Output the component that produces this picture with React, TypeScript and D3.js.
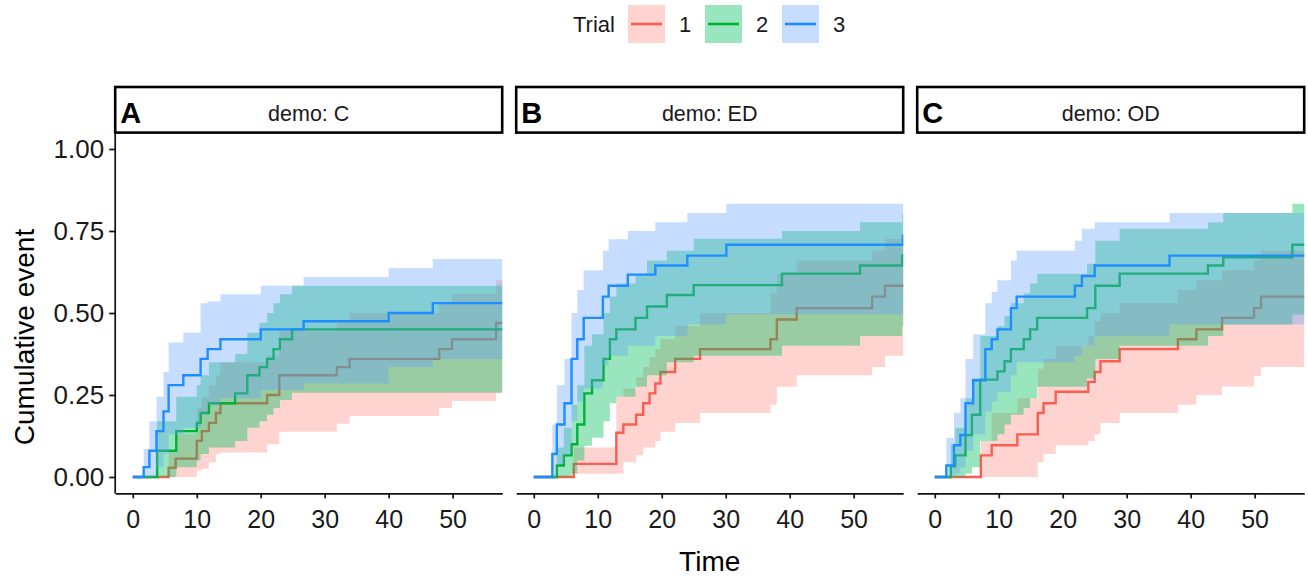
import React, { useEffect, useRef } from "react"
import * as d3 from "d3"

const demoGroups = ["C", "ED", "OD"]
const panelTags = ["A", "B", "C"]
const trials = ["1", "2", "3"]
const xTickValues = [0, 10, 20, 30, 40, 50]
const yTickValues = [0, 0.25, 0.5, 0.75, 1]
const followUpEnd = 60

// demo: C
const cTime1 = [0, 5.6, 6.7, 10, 10.8, 11.9, 13, 13.7, 21, 22.9, 31.9, 33.9, 47.9, 49.9, 56.8]
const cEst1 = [0, 0.028, 0.056, 0.11, 0.14, 0.165, 0.195, 0.225, 0.25, 0.31, 0.335, 0.36, 0.39, 0.42, 0.47]
const cLo1 = [0, 0, 0, 0.02, 0.025, 0.045, 0.07, 0.075, 0.1, 0.138, 0.162, 0.186, 0.21, 0.232, 0.257]
const cHi1 = [0, 0.08, 0.13, 0.21, 0.245, 0.28, 0.31, 0.35, 0.37, 0.445, 0.475, 0.5, 0.53, 0.557, 0.6]

const cTime2 = [0, 3.8, 6.8, 10, 10.6, 11.9, 16, 17.9, 19.8, 21, 22, 23, 24.9]
const cEst2 = [0, 0.08, 0.14, 0.165, 0.195, 0.225, 0.255, 0.31, 0.335, 0.36, 0.39, 0.42, 0.45]
const cLo2 = [0, 0, 0.03, 0.05, 0.07, 0.09, 0.11, 0.15, 0.17, 0.19, 0.21, 0.235, 0.257]
const cHi2 = [0, 0.17, 0.245, 0.28, 0.31, 0.35, 0.375, 0.44, 0.47, 0.5, 0.53, 0.557, 0.583]

const cTime3 = [0, 1.7, 2.6, 3.7, 4.8, 5.6, 7.9, 10.6, 11.7, 13.7, 20, 26.7, 40, 46.9]
const cEst3 = [0, 0.03, 0.08, 0.14, 0.2, 0.28, 0.31, 0.36, 0.39, 0.42, 0.45, 0.475, 0.5, 0.53]
const cLo3 = [0, 0, 0, 0.03, 0.07, 0.13, 0.15, 0.19, 0.22, 0.24, 0.265, 0.285, 0.335, 0.36]
const cHi3 = [0, 0.085, 0.17, 0.245, 0.32, 0.41, 0.44, 0.53, 0.535, 0.557, 0.583, 0.61, 0.637, 0.665]

// demo: ED
const edTime1 = [0, 6.25, 12.9, 14, 16, 17.1, 18.1, 19, 19.8, 22.1, 26, 37, 38, 41.1, 52.9, 54.9]
const edEst1 = [0, 0.04, 0.135, 0.16, 0.19, 0.225, 0.255, 0.285, 0.32, 0.36, 0.39, 0.42, 0.48, 0.515, 0.55, 0.583]
const edLo1 = [0, 0.01, 0.01, 0.045, 0.066, 0.09, 0.09, 0.11, 0.138, 0.165, 0.195, 0.22, 0.275, 0.31, 0.335, 0.37]
const edHi1 = [0, 0.09, 0.245, 0.27, 0.305, 0.335, 0.365, 0.39, 0.42, 0.46, 0.5, 0.56, 0.62, 0.66, 0.69, 0.726]

const edTime2 = [0, 3.6, 4.7, 5.9, 6.8, 7.9, 9.1, 10.9, 11.9, 12.9, 15.9, 17.7, 20.8, 25, 38.8, 51, 57.6]
const edEst2 = [0, 0.035, 0.066, 0.1, 0.16, 0.255, 0.295, 0.36, 0.42, 0.45, 0.485, 0.52, 0.555, 0.585, 0.62, 0.645, 0.675]
const edLo2 = [0, 0, 0, 0.01, 0.05, 0.095, 0.12, 0.17, 0.225, 0.245, 0.275, 0.31, 0.35, 0.37, 0.4, 0.43, 0.46]
const edHi2 = [0, 0.09, 0.15, 0.22, 0.28, 0.4, 0.435, 0.5, 0.55, 0.59, 0.62, 0.66, 0.69, 0.726, 0.75, 0.777, 0.8]

const edTime3 = [0, 2.9, 3.6, 4.8, 5.9, 6.8, 7.8, 10.8, 11.7, 14.7, 19, 24, 30.1, 57.7]
const edEst3 = [0, 0.07, 0.16, 0.225, 0.36, 0.42, 0.485, 0.55, 0.583, 0.617, 0.645, 0.675, 0.708, 0.736]
const edLo3 = [0, 0, 0.04, 0.07, 0.17, 0.23, 0.27, 0.34, 0.37, 0.4, 0.43, 0.465, 0.496, 0.52]
const edHi3 = [0, 0.16, 0.28, 0.36, 0.5, 0.57, 0.63, 0.69, 0.725, 0.75, 0.777, 0.805, 0.833, 0.85]

// demo: OD
const odTime1 = [0, 7.2, 8.9, 12.9, 16.1, 17, 18.9, 24, 25, 25.9, 28.9, 38, 40.9, 44.9, 49.9, 51]
const odEst1 = [0, 0.066, 0.097, 0.13, 0.195, 0.225, 0.26, 0.29, 0.32, 0.353, 0.39, 0.42, 0.45, 0.485, 0.515, 0.55]
const odLo1 = [0, 0, 0, 0, 0.045, 0.07, 0.097, 0.11, 0.13, 0.165, 0.195, 0.22, 0.25, 0.276, 0.307, 0.335]
const odHi1 = [0, 0.11, 0.195, 0.24, 0.33, 0.36, 0.4, 0.43, 0.475, 0.5, 0.53, 0.57, 0.6, 0.63, 0.66, 0.69]

const odTime2 = [0, 2.5, 3.2, 4.8, 5.8, 7.1, 9.8, 10.9, 11.9, 13.9, 14.9, 16, 23.8, 25.1, 28.9, 42.7, 45.1, 55.9]
const odEst2 = [0, 0.033, 0.066, 0.128, 0.19, 0.297, 0.322, 0.353, 0.39, 0.42, 0.45, 0.485, 0.515, 0.583, 0.62, 0.645, 0.67, 0.708]
const odLo2 = [0, 0, 0, 0.01, 0.03, 0.11, 0.13, 0.16, 0.19, 0.21, 0.24, 0.275, 0.3, 0.36, 0.4, 0.43, 0.465, 0.495]
const odHi2 = [0, 0.1, 0.15, 0.24, 0.3, 0.43, 0.46, 0.49, 0.53, 0.56, 0.59, 0.62, 0.65, 0.72, 0.757, 0.777, 0.805, 0.833]

const odTime3 = [0, 1.8, 3, 4, 4.8, 6, 7.9, 8.9, 9.8, 11.9, 12.8, 21.9, 23, 25, 36.7]
const odEst3 = [0, 0.035, 0.097, 0.128, 0.225, 0.295, 0.39, 0.42, 0.45, 0.515, 0.55, 0.583, 0.613, 0.645, 0.675]
const odLo3 = [0, 0, 0.01, 0.03, 0.08, 0.13, 0.2, 0.23, 0.26, 0.31, 0.35, 0.37, 0.4, 0.43, 0.465]
const odHi3 = [0, 0.12, 0.196, 0.24, 0.36, 0.435, 0.53, 0.565, 0.6, 0.66, 0.69, 0.72, 0.757, 0.777, 0.805]

type CurveType = {
  time: number[]
  est: number[]
  lo: number[]
  hi: number[]
}

type StepPoint = { t: number; est: number; lo: number; hi: number }

const curves: CurveType[][] = [
  [
    { time: cTime1, est: cEst1, lo: cLo1, hi: cHi1 },
    { time: cTime2, est: cEst2, lo: cLo2, hi: cHi2 },
    { time: cTime3, est: cEst3, lo: cLo3, hi: cHi3 }
  ],
  [
    { time: edTime1, est: edEst1, lo: edLo1, hi: edHi1 },
    { time: edTime2, est: edEst2, lo: edLo2, hi: edHi2 },
    { time: edTime3, est: edEst3, lo: edLo3, hi: edHi3 }
  ],
  [
    { time: odTime1, est: odEst1, lo: odLo1, hi: odHi1 },
    { time: odTime2, est: odEst2, lo: odLo2, hi: odHi2 },
    { time: odTime3, est: odEst3, lo: odLo3, hi: odHi3 }
  ]
]

const dimensions = { width: 1308, height: 576 }
const panelLefts = [115.2, 516.2, 917.2]
const panelWidth = 387
const plotTop = 132.6
const plotBottom = 493.4
const stripTop = 87

const lineColors = ["#F85E52", "#00B236", "#1E8EFF"]
const bandColors = ["#FF877E", "#00C05C", "#62A1FF"]
const bandOpacity = [0.36, 0.4, 0.36]
const font = "'Liberation Sans', Arial, sans-serif"

export default function App() {
  const ref = useRef<SVGSVGElement>(null)

  useEffect(() => {
    const svg = d3.select(ref.current)
    svg.selectAll("*").remove()

    const yScale = d3
      .scaleLinear()
      .domain([-0.05, 1.05])
      .range([plotBottom, plotTop])

    demoGroups.forEach((group, p) => {
      const left = panelLefts[p]
      const xScale = d3
        .scaleLinear()
        .domain([-2.75, 57.75])
        .range([left, left + panelWidth])

      const clipId = `clip-${p}`
      svg
        .append("clipPath")
        .attr("id", clipId)
        .append("rect")
        .attr("x", left)
        .attr("y", plotTop)
        .attr("width", panelWidth)
        .attr("height", plotBottom - plotTop)

      const g = svg.append("g").attr("clip-path", `url(#${clipId})`)

      const area = d3
        .area<StepPoint>()
        .curve(d3.curveStepAfter)
        .x(d => xScale(d.t))
        .y0(d => yScale(d.lo))
        .y1(d => yScale(d.hi))

      const line = d3
        .line<StepPoint>()
        .curve(d3.curveStepAfter)
        .x(d => xScale(d.t))
        .y(d => yScale(d.est))

      curves[p].forEach((c, i) => {
        const pts: StepPoint[] = c.time.map((t, k) => ({
          t,
          est: c.est[k],
          lo: c.lo[k],
          hi: c.hi[k]
        }))
        pts.push({ ...pts[pts.length - 1], t: followUpEnd })

        g.append("path")
          .attr("d", area(pts))
          .attr("fill", bandColors[i])
          .attr("fill-opacity", bandOpacity[i])

        g.append("path")
          .attr("d", line(pts))
          .attr("fill", "none")
          .attr("stroke", lineColors[i])
          .attr("stroke-width", 2.4)
      })

      // x axis
      const xAxis = d3
        .axisBottom(xScale)
        .tickValues(xTickValues)
        .tickSizeInner(5)
        .tickSizeOuter(0)
        .tickPadding(12)
        .tickFormat(d3.format("d"))

      const xg = svg
        .append("g")
        .attr("transform", `translate(0 ${plotBottom})`)
        .call(xAxis)
      xg.attr("font-family", font).attr("font-size", 25)
      xg.selectAll("path, line").attr("stroke", "#111").attr("stroke-width", 1.7)
      xg.selectAll("text").attr("fill", "#1a1a1a")

      if (p === 0) {
        const yAxis = d3
          .axisLeft(yScale)
          .tickValues(yTickValues)
          .tickSizeInner(6)
          .tickSizeOuter(0)
          .tickPadding(5)
          .tickFormat(d3.format(".2f"))

        const yg = svg
          .append("g")
          .attr("transform", `translate(${left} 0)`)
          .call(yAxis)
        yg.attr("font-family", font).attr("font-size", 26)
        yg.select(".domain").attr("d", `M0,${plotTop}V${plotBottom}`)
        yg.selectAll("path, line").attr("stroke", "#111").attr("stroke-width", 1.7)
        yg.selectAll("text").attr("fill", "#1a1a1a")
      }

      // strip
      svg
        .append("rect")
        .attr("x", left)
        .attr("y", stripTop)
        .attr("width", panelWidth)
        .attr("height", plotTop - stripTop)
        .attr("fill", "white")
        .attr("stroke", "black")
        .attr("stroke-width", 2.6)

      svg
        .append("text")
        .attr("x", left + panelWidth / 2)
        .attr("y", 121)
        .attr("text-anchor", "middle")
        .attr("font-family", font)
        .attr("font-size", 21.5)
        .attr("fill", "#1a1a1a")
        .text(`demo: ${group}`)

      svg
        .append("text")
        .attr("x", left + 5)
        .attr("y", 123)
        .attr("font-family", font)
        .attr("font-size", 29)
        .attr("font-weight", "bold")
        .attr("fill", "black")
        .text(panelTags[p])
    })

    // axis titles
    svg
      .append("text")
      .attr("transform", "translate(34 337) rotate(-90)")
      .attr("text-anchor", "middle")
      .attr("font-family", font)
      .attr("font-size", 28)
      .attr("fill", "black")
      .text("Cumulative event")

    svg
      .append("text")
      .attr("x", (panelLefts[0] + panelLefts[2] + panelWidth) / 2)
      .attr("y", 571)
      .attr("text-anchor", "middle")
      .attr("font-family", font)
      .attr("font-size", 28)
      .attr("fill", "black")
      .text("Time")

    // legend
    const legend = svg.append("g").attr("font-family", font).attr("font-size", 22)
    legend
      .append("text")
      .attr("x", 573)
      .attr("y", 32)
      .attr("fill", "#1a1a1a")
      .text("Trial")

    const keyX = [628, 705, 782]
    trials.forEach((trial, i) => {
      legend
        .append("rect")
        .attr("x", keyX[i])
        .attr("y", 5)
        .attr("width", 37)
        .attr("height", 38)
        .attr("fill", bandColors[i])
        .attr("fill-opacity", bandOpacity[i])
      legend
        .append("line")
        .attr("x1", keyX[i] + 3)
        .attr("x2", keyX[i] + 34)
        .attr("y1", 24)
        .attr("y2", 24)
        .attr("stroke", lineColors[i])
        .attr("stroke-width", 2.6)
      legend
        .append("text")
        .attr("x", keyX[i] + 57)
        .attr("y", 32)
        .attr("text-anchor", "middle")
        .attr("fill", "#1a1a1a")
        .text(trial)
    })
  }, [])

  return (
    <div style={{ position: "fixed", left: 0, top: 0, background: "white" }}>
      <svg ref={ref} width={dimensions.width} height={dimensions.height}></svg>
    </div>
  )
}
